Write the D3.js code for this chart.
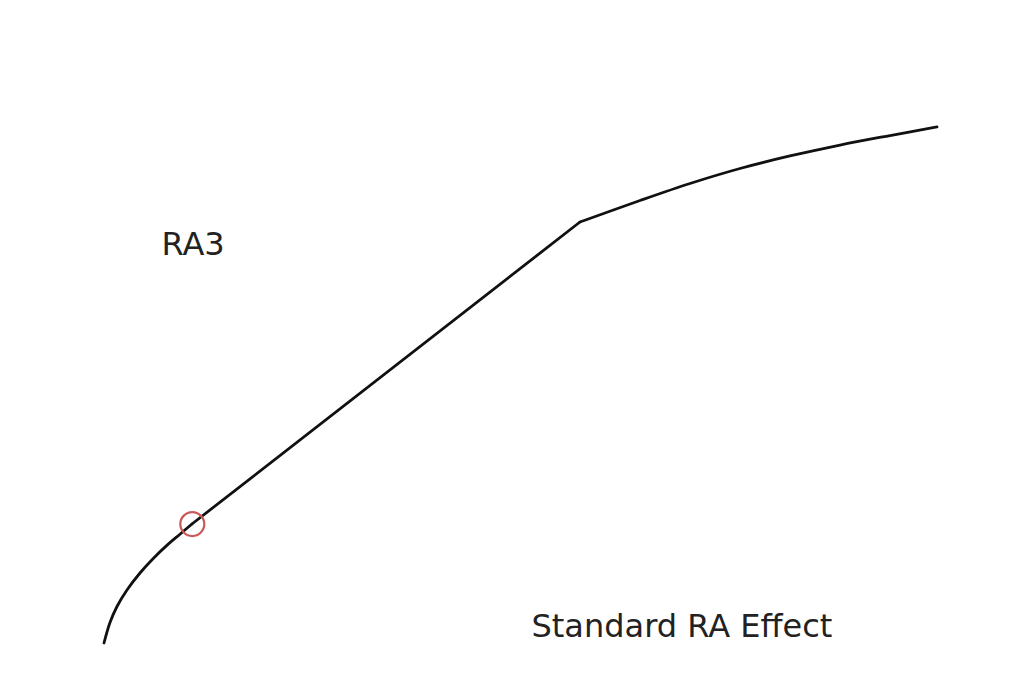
<!DOCTYPE html>
<html>
<head>
<meta charset="utf-8">
<script src="https://cdn.jsdelivr.net/npm/d3@7"></script>
<style>
  body { margin: 0; background: #fff; }
</style>
</head>
<body>
<svg id="svg1"></svg>
<script>
const width = 1024;
const height = 694;

// curve pieces in chart units (0..100 on both axes)
const lowerX = [0, 0.72, 1.56, 2.76, 4.32, 6.00, 7.68, 9.12, 10.56];
const lowerY = [0, 3.95, 7.06, 10.25, 13.54, 16.50, 19.07, 21.04, 23.02];
const straightX = [10.56, 57.14];
const straightY = [23.02, 81.43];
const upperX = [57.14, 64.35, 70.35, 76.35, 82.35, 88.36, 94.36, 100];
const upperY = [81.43, 85.59, 88.88, 91.78, 94.20, 96.32, 98.16, 99.81];
const marker = [10.6, 23.0];
const labels = ["RA3", "Standard RA Effect"];
const labelPos = [[6.90, 75.05], [51.32, 1.16]];

const svg = d3.select("#svg1")
    .attr("width", width)
    .attr("height", height);

const x = d3.scaleLinear().domain([0, 100]).range([104, 937]);
const y = d3.scaleLinear().domain([0, 100]).range([643, 126]);

function zip(xs, ys) { return xs.map(function(v, i) { return [v, ys[i]]; }); }

const smooth = d3.line()
    .x(function(d) { return x(d[0]); })
    .y(function(d) { return y(d[1]); })
    .curve(d3.curveCatmullRom.alpha(0.5));

const straight = d3.line()
    .x(function(d) { return x(d[0]); })
    .y(function(d) { return y(d[1]); });

const g = svg.append("g")
    .attr("fill", "none")
    .attr("stroke", "#111")
    .attr("stroke-width", 2.8)
    .attr("stroke-linecap", "round")
    .attr("stroke-linejoin", "round");

g.append("path").attr("d", smooth(zip(lowerX, lowerY)));
g.append("path").attr("d", straight(zip(straightX, straightY)));
g.append("path").attr("d", smooth(zip(upperX, upperY)));

svg.append("circle")
    .attr("cx", x(marker[0]))
    .attr("cy", y(marker[1]))
    .attr("r", 12)
    .attr("fill", "none")
    .attr("stroke", "#c85a5a")
    .attr("stroke-width", 2.2);

svg.selectAll("text.label")
    .data(labels)
    .enter().append("text")
    .attr("class", "label")
    .attr("x", function(d, i) { return x(labelPos[i][0]); })
    .attr("y", function(d, i) { return y(labelPos[i][1]); })
    .attr("font-family", "DejaVu Sans")
    .attr("font-size", 32)
    .attr("fill", "#222")
    .text(function(d) { return d; });
</script>
</body>
</html>
